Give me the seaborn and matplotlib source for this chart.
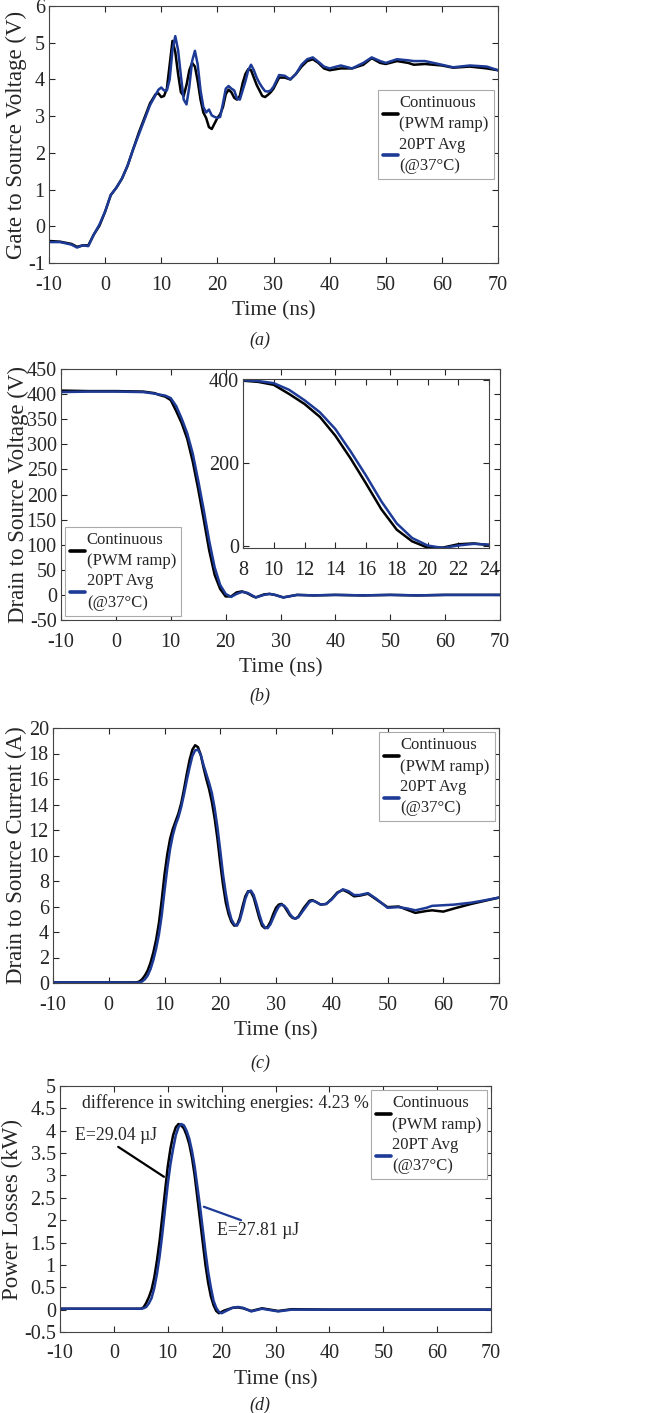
import numpy as np
import pandas as pd
import matplotlib
matplotlib.use("Agg")
import matplotlib.pyplot as plt
import seaborn as sns

################################################
#                 Data
################################################
# (a) gate to source voltage
t_vgs = [-10, -8, -6, -5, -4, -3, -2, -1, 0, 1, 2, 3, 4, 5, 6, 7, 8, 9,
         9.5, 10, 10.5, 11, 11.5, 12, 12.5, 13, 13.5, 14, 14.5, 15, 15.5, 16,
         16.5, 17, 17.5, 18, 18.5, 19, 19.5, 20, 20.5, 21, 21.5, 22, 22.5, 23,
         23.5, 24, 24.5, 25, 25.5, 26, 26.5, 27, 27.5, 28, 28.5, 29, 29.5, 30,
         31, 32, 33, 34, 35, 36, 37, 38, 39, 40, 42, 44, 46, 47.5, 49, 50, 52,
         54, 55, 57, 60, 62, 65, 68, 70]
vgs_cont = [-0.40, -0.42, -0.48, -0.56, -0.52, -0.52, -0.22, 0.02, 0.40, 0.85,
            1.05, 1.30, 1.65, 2.10, 2.55, 2.95, 3.35, 3.60, 3.62, 3.52, 3.55,
            3.75, 4.40, 5.05, 4.75, 4.15, 3.65, 3.55, 3.85, 4.25, 4.45, 4.35,
            3.95, 3.45, 3.10, 2.95, 2.70, 2.65, 2.80, 2.95, 3.05, 3.25, 3.60,
            3.72, 3.65, 3.50, 3.45, 3.55, 3.90, 4.15, 4.28, 4.25, 4.05, 3.85,
            3.70, 3.55, 3.52, 3.58, 3.65, 3.75, 4.05, 4.05, 4.00, 4.15, 4.35,
            4.50, 4.55, 4.45, 4.30, 4.25, 4.30, 4.30, 4.40, 4.58, 4.45, 4.42,
            4.50, 4.45, 4.40, 4.42, 4.38, 4.32, 4.35, 4.30, 4.25]
vgs_avg = [-0.43, -0.43, -0.50, -0.58, -0.52, -0.54, -0.22, 0.05, 0.40, 0.85,
           1.05, 1.30, 1.65, 2.10, 2.50, 2.90, 3.30, 3.58, 3.72, 3.78, 3.70,
           3.70, 4.00, 4.80, 5.18, 4.80, 4.10, 3.45, 3.32, 3.80, 4.50, 4.78,
           4.40, 3.70, 3.25, 3.10, 3.18, 3.02, 2.98, 2.95, 2.98, 3.35, 3.75,
           3.82, 3.75, 3.70, 3.48, 3.45, 3.70, 3.95, 4.25, 4.40, 4.25, 4.05,
           3.90, 3.78, 3.68, 3.67, 3.70, 3.80, 4.12, 4.10, 4.00, 4.15, 4.40,
           4.55, 4.60, 4.48, 4.35, 4.30, 4.38, 4.30, 4.45, 4.60, 4.50, 4.45,
           4.55, 4.52, 4.50, 4.50, 4.40, 4.33, 4.38, 4.35, 4.25]

# (b) drain to source voltage
t_vds = [-10, -5, 0, 5, 7, 8, 9, 10, 11, 12, 13, 14, 15, 16, 17, 18, 19, 20,
         21, 22, 23, 24, 25, 25.5, 27, 28, 29, 30.5, 32, 33, 36, 40, 45, 50,
         55, 60, 65, 70]
vds_cont = [407, 406, 406, 405, 402, 398, 395, 388, 366, 342, 311, 266, 211,
            151, 89, 40, 12, -3, -3, 5, 7, 3, -3, -5, 1, 2, 0, -5, -2, 0, -1,
            0, -1, 0, -1, 0, 0, 0]
vds_avg = [404, 405, 405, 404, 401, 399, 397, 392, 376, 351, 322, 282, 228,
           170, 108, 55, 20, 2, -4, 2, 6, 4, -2, -5, 0, 2, 0, -5, -2, 0, -1,
           0, -1, 0, -1, 0, 0, 0]

# (c) drain to source current
t_ids = [-10, 0, 5, 5.5, 6, 6.5, 7, 7.5, 8, 8.5, 9, 9.5, 10, 10.5, 11, 11.5,
         12, 12.5, 13, 13.5, 14, 14.5, 15, 15.5, 16, 16.5, 17, 17.5, 18, 18.5,
         19, 19.5, 20, 20.5, 21, 21.5, 22, 22.5, 23, 23.5, 24, 24.5, 25, 25.5,
         26, 26.5, 27, 27.5, 28, 28.5, 29, 29.5, 30, 30.5, 31, 31.5, 32, 32.5,
         33, 33.5, 34, 35, 36, 36.5, 37, 38, 39, 40, 41, 42, 43, 44, 45, 46.5,
         48, 50, 52, 53.5, 55, 57, 58, 60, 62, 65, 67, 70]
ids_cont = [0.05, 0.05, 0.05, 0.12, 0.3, 0.6, 1.0, 1.6, 2.4, 3.4, 4.7, 6.5,
            8.5, 10.1, 11.3, 12.1, 12.7, 13.3, 14.1, 15.2, 16.4, 17.5, 18.3,
            18.65, 18.5, 17.9, 16.9, 16.0, 15.2, 14.2, 12.9, 11.3, 9.4, 7.7,
            6.3, 5.4, 4.8, 4.5, 4.55, 5.1, 6.0, 6.8, 7.2, 7.15, 6.7, 5.9, 5.1,
            4.5, 4.3, 4.4, 4.8, 5.4, 5.9, 6.15, 6.2, 6.0, 5.65, 5.3, 5.1, 5.05,
            5.2, 5.9, 6.45, 6.5, 6.4, 6.15, 6.2, 6.6, 7.1, 7.3, 7.1, 6.8, 6.85,
            7.0, 6.55, 5.95, 6.0, 5.75, 5.5, 5.65, 5.7, 5.6, 5.85, 6.2, 6.4,
            6.7]
ids_avg = [0.05, 0.05, 0.03, 0.05, 0.12, 0.3, 0.6, 1.1, 1.8, 2.7, 3.8, 5.3,
           7.2, 9.0, 10.5, 11.6, 12.4, 13.0, 13.8, 14.8, 15.9, 16.9, 17.8,
           18.25, 18.3, 17.9, 17.1, 16.4, 15.7, 14.9, 13.7, 12.2, 10.4, 8.5,
           7.0, 5.8, 5.0, 4.6, 4.5, 4.9, 5.7, 6.6, 7.15, 7.25, 6.9, 6.2, 5.4,
           4.7, 4.35, 4.3, 4.6, 5.1, 5.6, 6.0, 6.15, 6.05, 5.8, 5.4, 5.15,
           5.05, 5.15, 5.75, 6.35, 6.45, 6.4, 6.15, 6.2, 6.55, 7.05, 7.35, 7.2,
           6.9, 6.9, 7.05, 6.6, 5.9, 5.95, 5.85, 5.7, 5.9, 6.05, 6.1, 6.15,
           6.3, 6.45, 6.7]

# (d) power losses
t_p = [-10, 0, 5, 5.5, 6, 6.5, 7, 7.5, 8, 8.5, 9, 9.5, 10, 10.5, 11, 11.5, 12,
       12.5, 13, 13.5, 14, 14.5, 15, 15.5, 16, 16.5, 17, 17.5, 18, 18.5, 19,
       19.5, 20, 20.5, 21, 22, 23, 24, 25.5, 27.5, 30.5, 33, 40, 50, 60, 70]
p_cont = [0.02, 0.02, 0.02, 0.05, 0.15, 0.28, 0.45, 0.72, 1.1, 1.55, 2.1, 2.65,
          3.2, 3.6, 3.9, 4.08, 4.15, 4.12, 4.05, 3.9, 3.7, 3.4, 3.0, 2.5, 2.0,
          1.5, 1.0, 0.6, 0.3, 0.1, -0.03, -0.08, -0.05, -0.02, 0.0, 0.04,
          0.05, 0.03, -0.03, 0.03, -0.03, 0.01, 0.0, 0.0, 0.0, 0.0]
p_avg = [0.02, 0.02, 0.02, 0.03, 0.06, 0.14, 0.26, 0.48, 0.8, 1.2, 1.7, 2.25,
         2.8, 3.25, 3.6, 3.9, 4.08, 4.15, 4.12, 4.0, 3.82, 3.55, 3.2, 2.75,
         2.3, 1.8, 1.3, 0.85, 0.5, 0.2, 0.04, -0.05, -0.08, -0.05, -0.02,
         0.04, 0.06, 0.04, -0.04, 0.02, -0.04, 0.0, 0.0, 0.0, 0.0, 0.0]

lab_cont = "Continuous\n(PWM ramp)"
lab_avg = "20PT Avg\n(@37°C)"
energy_note = "difference in switching energies: 4.23 %"
e_cont_note = "E=29.04 µJ"
e_avg_note = "E=27.81 µJ"

################################################
#                 Style
################################################
sns.set_theme(style="ticks")
plt.rcParams['font.family'] = ['Liberation Serif', 'DejaVu Serif']
plt.rcParams['axes.unicode_minus'] = False
plt.rcParams['text.color'] = '#262626'
plt.rcParams['axes.labelcolor'] = '#262626'
plt.rcParams['xtick.color'] = '#262626'
plt.rcParams['ytick.color'] = '#262626'
plt.rcParams['axes.edgecolor'] = '#444444'

BLACK = '#000000'
BLUE = '#1c3a96'
LW = 1.8
TICK_FS = 14.5
XLABEL_FS = 15.5
YLABEL_FS = 16.5
LEG_FS = 12
NOTE_FS = 12.8

W, H = 668, 1413
fig = plt.figure(figsize=(W / 100, H / 100), dpi=100)


def box(l, r, t, b):
    return [l / W, 1 - b / H, (r - l) / W, (b - t) / H]


def style_axes(ax):
    ax.tick_params(direction='in', top=True, right=True, labelsize=TICK_FS,
                   length=4, width=0.8)
    ax.tick_params(axis='x', pad=9)
    ax.tick_params(axis='y', pad=3)
    for s in ax.spines.values():
        s.set_linewidth(0.8)


def draw(ax, t, a, b):
    sns.lineplot(x=t, y=a, ax=ax, color=BLACK, lw=LW, label=lab_cont)
    sns.lineplot(x=t, y=b, ax=ax, color=BLUE, lw=LW, label=lab_avg)


def legend(ax, loc):
    leg = ax.legend(loc=loc, fontsize=LEG_FS, handlelength=0.9,
                    handletextpad=0.1, borderpad=0.3, labelspacing=0.25,
                    fancybox=False, framealpha=1, edgecolor='#aaaaaa',
                    borderaxespad=0.25)
    leg.get_frame().set_linewidth(0.8)
    for txt in leg.get_texts():
        txt.set_linespacing(1.45)
    for h in leg.get_lines():
        h.set_linewidth(2.6)


def labels(ax, ylab):
    ax.set_xlabel("Time (ns)", fontsize=XLABEL_FS, labelpad=5)
    ax.set_ylabel(ylab, fontsize=YLABEL_FS, labelpad=1)


xticks = np.arange(-10, 71, 10)

################################################
#                 (a)
################################################
ax1 = fig.add_axes(box(49, 498, 6, 263))
draw(ax1, t_vgs, vgs_cont, vgs_avg)
ax1.set_xlim(-10, 70)
ax1.set_ylim(-1, 6)
ax1.set_xticks(xticks)
ax1.set_yticks(np.arange(-1, 7, 1))
labels(ax1, "Gate to Source Voltage (V)")
style_axes(ax1)
legend(ax1, 'center right')

################################################
#                 (b)
################################################
ax2 = fig.add_axes(box(61, 500, 369, 620))
draw(ax2, t_vds, vds_cont, vds_avg)
ax2.set_xlim(-10, 70)
ax2.set_ylim(-50, 450)
ax2.set_xticks(xticks)
ax2.set_yticks(np.arange(-50, 451, 50))
labels(ax2, "Drain to Source Voltage (V)")
ax2.yaxis.labelpad = -2
style_axes(ax2)
legend(ax2, 'lower left')

ax2i = fig.add_axes(box(243, 489, 379, 548))
sns.lineplot(x=t_vds, y=vds_cont, ax=ax2i, color=BLACK, lw=LW)
sns.lineplot(x=t_vds, y=vds_avg, ax=ax2i, color=BLUE, lw=LW)
ax2i.set_xlim(8, 24)
ax2i.set_ylim(-4, 402)
ax2i.set_xticks(np.arange(8, 25, 2))
ax2i.set_yticks([0, 200, 400])
ax2i.set_xlabel("")
ax2i.set_ylabel("")
style_axes(ax2i)

################################################
#                 (c)
################################################
ax3 = fig.add_axes(box(53, 499, 728, 983))
draw(ax3, t_ids, ids_cont, ids_avg)
ax3.set_xlim(-10, 70)
ax3.set_ylim(0, 20)
ax3.set_xticks(xticks)
ax3.set_yticks(np.arange(0, 21, 2))
labels(ax3, "Drain to Source Current (A)")
style_axes(ax3)
legend(ax3, 'upper right')

################################################
#                 (d)
################################################
ax4 = fig.add_axes(box(60, 491, 1086, 1332))
draw(ax4, t_p, p_cont, p_avg)
ax4.set_xlim(-10, 70)
ax4.set_ylim(-0.5, 5)
p_ticks = np.arange(-0.5, 5.01, 0.5)
ax4.set_yticks(p_ticks)
ax4.set_yticklabels([f"{v:g}" for v in p_ticks])
ax4.set_xticks(xticks)
labels(ax4, "Power Losses (kW)")
style_axes(ax4)
legend(ax4, 'upper right')

ax4.text(-6.0, 4.62, energy_note, fontsize=NOTE_FS, va='center', ha='left')
ax4.text(-7.2, 3.9, e_cont_note, fontsize=NOTE_FS, va='center', ha='left')
ax4.plot([0.8, 9.3], [3.64, 2.97], color=BLACK, lw=1.6)
ax4.text(19.1, 1.77, e_avg_note, fontsize=NOTE_FS, va='center', ha='left')
ax4.plot([16.7, 23.6], [2.3, 2.0], color=BLUE, lw=1.6)

################################################
#                 Panel labels
################################################
for lab, y in [("(a)", 340), ("(b)", 696), ("(c)", 1063), ("(d)", 1405)]:
    fig.text(260 / W, 1 - y / H, lab, fontsize=13, style='italic',
             ha='center', va='center')

fig.savefig("out.png", dpi=100)
